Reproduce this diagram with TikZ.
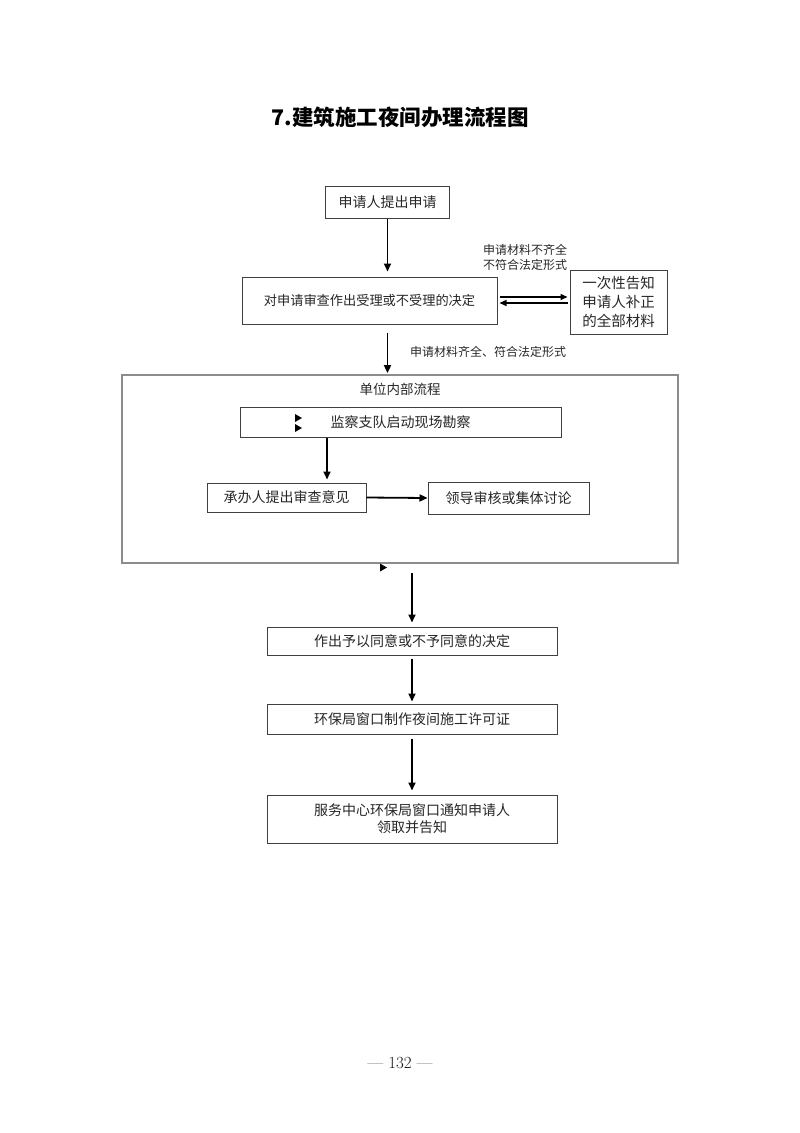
\documentclass[tikz,border=0pt]{standalone}
\usepackage{fontspec}
\newfontfamily\cjk{Noto Sans CJK SC}
\usetikzlibrary{arrows.meta}
\tikzset{
  box/.style={draw=black!75, line width=1pt, inner sep=0pt, align=center,
    font=\cjk\fontsize{14}{17}\selectfont, text=black!85},
  note/.style={anchor=west, align=left, inner sep=0pt,
    font=\cjk\fontsize{12}{15}\selectfont, text=black!85},
  arr/.style={-{Triangle[length=8pt,width=7pt]}, line width=1.8pt},
  thinarr/.style={-{Triangle[length=7pt,width=6pt]}, line width=1.4pt},
  tip/.style={fill=black}
}
\begin{document}
\begin{tikzpicture}[x=1pt,y=-1pt]
  \useasboundingbox (0,0) rectangle (800,1133);
  \node[font=\cjk\bfseries\fontsize{21.5}{24}\selectfont] (title) at (400,117) {7.建筑施工夜间办理流程图};

  \node[box, minimum width=124pt, minimum height=32pt] (apply) at (387.5,202) {申请人提出申请};
  \node[box, minimum width=255pt, minimum height=47pt,
    font=\cjk\fontsize{13.2}{17}\selectfont] (check) at (369.5,300.5) {对申请审查作出受理或不受理的决定};
  \node[box, minimum width=97pt, minimum height=64pt,
    font=\cjk\fontsize{14.5}{19}\selectfont] (notify) at (618.5,302) {一次性告知\\申请人补正\\的全部材料};
  \node[note] (lack) at (483,257.5) {申请材料不齐全\\不符合法定形式};
  \node[note] (full) at (410,352) {申请材料齐全、符合法定形式};

  \node[draw=black!45, line width=1.8pt, minimum width=556pt, minimum height=188pt] (inner) at (400,469) {};
  \node[font=\cjk\fontsize{13.5}{17}\selectfont, text=black!85] (innerlabel) at (400,389) {单位内部流程};
  \node[box, minimum width=321pt, minimum height=30pt] (survey) at (400.5,422) {监察支队启动现场勘察};
  \node[box, minimum width=159pt, minimum height=29pt] (opinion) at (286.5,497.5) {承办人提出审查意见};
  \node[box, minimum width=161pt, minimum height=32pt] (leader) at (508.5,498) {领导审核或集体讨论};
  \coordinate (down) at (327,0);

  \node[box, minimum width=290pt, minimum height=28pt] (decide) at (412,641) {作出予以同意或不予同意的决定};
  \node[box, minimum width=290pt, minimum height=30pt] (permit) at (412,719) {环保局窗口制作夜间施工许可证};
  \node[box, minimum width=290pt, minimum height=48pt] (inform) at (412,819) {服务中心环保局窗口通知申请人\\领取并告知};

  \node[font=\fontsize{17}{20}\selectfont, text=black!90] (page) at (400,1063) {— 132 —};

  % connectors
  \draw[arr, shorten >=5pt] (apply.south) -- (apply.south |- check.north);
  \draw[thinarr, shorten <=2pt, shorten >=2pt] ([yshift=3.5pt]check.east) -- ([yshift=3.5pt]check.east -| notify.west);
  \draw[thinarr, shorten <=2pt, shorten >=2pt] ([yshift=-1pt]notify.west) -- ([yshift=-1pt]notify.west -| check.east);
  \draw[arr, shorten <=8pt, shorten >=1pt] (check.south -| apply.south) -- (inner.north -| apply.south);
  \draw[arr, shorten >=3pt] (survey.south -| down) -- (opinion.north -| down);
  \draw[arr] (opinion.east) -- (leader.west);
  \draw[arr, shorten <=9pt, shorten >=4pt] (inner.south -| decide.north) -- (decide.north);
  \draw[arr, shorten <=3pt, shorten >=2pt] (decide) -- (permit);
  \draw[arr, shorten <=4pt, shorten >=4pt] (permit) -- (inform);

  % loose tips
  \fill[tip] (295,414) -- (302,418) -- (295,422) -- cycle;
  \fill[tip] (295,424) -- (302,428) -- (295,432) -- cycle;
  \fill[tip] (380,563.5) -- (387,567.5) -- (380,571.5) -- cycle;
\end{tikzpicture}
\end{document}
